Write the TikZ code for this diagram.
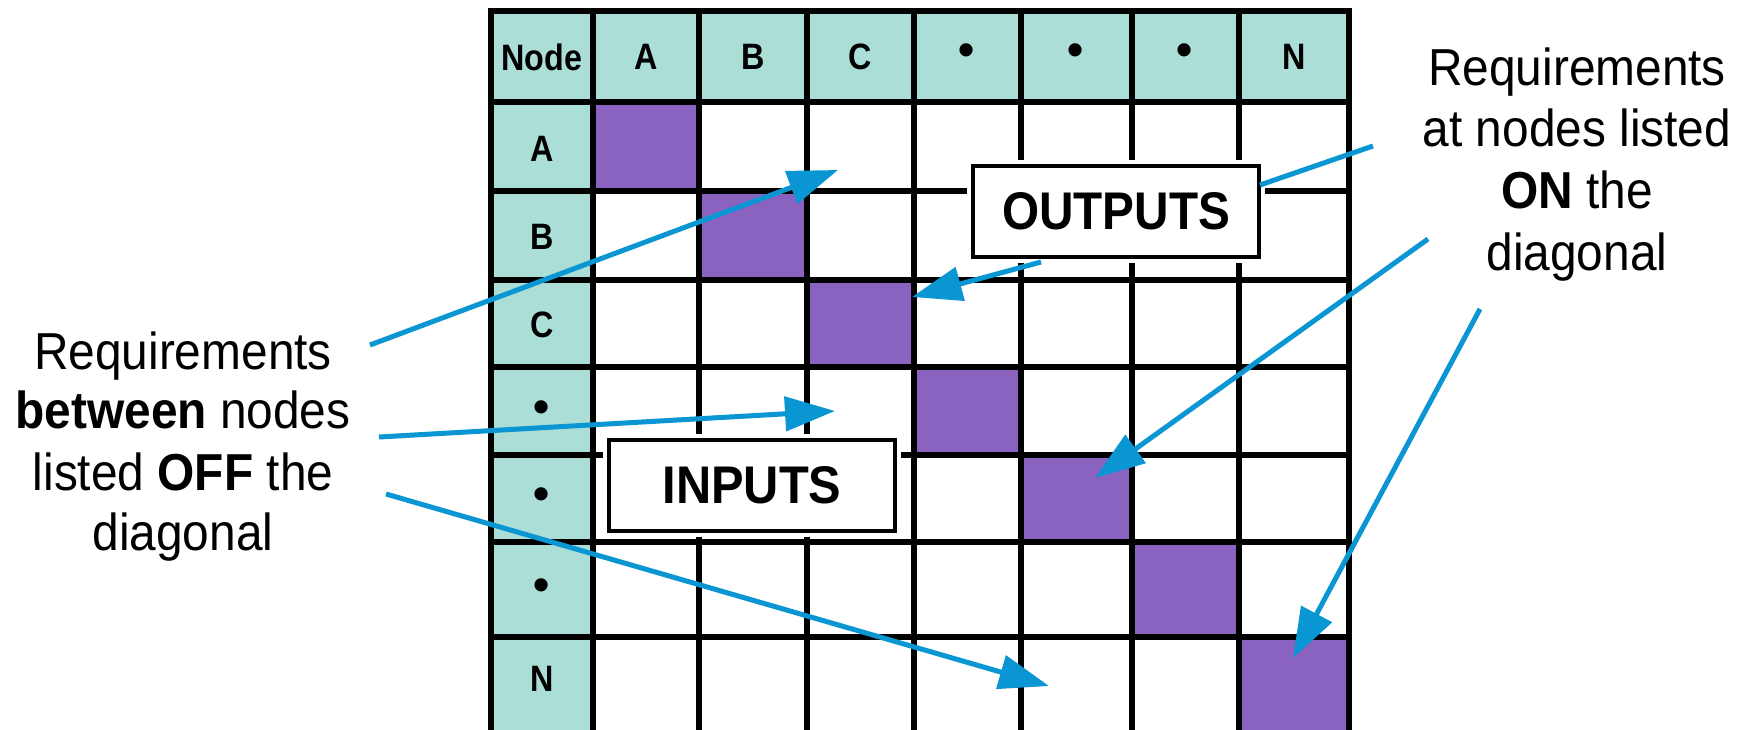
\documentclass[tikz,border=0pt]{standalone}
\usepackage{fontspec}
\setmainfont{Liberation Sans}
\usetikzlibrary{arrows.meta}
\definecolor{hdr}{RGB}{170,222,214}
\definecolor{diag}{RGB}{138,98,192}
\definecolor{arr}{RGB}{10,150,210}
\newcommand{\hx}[1]{\scalebox{0.95}[1.08]{#1}}
\newcommand{\nx}[1]{\scalebox{0.92}[1]{#1}}
\tikzset{
  gridline/.style={line width=6pt, line cap=rect},
  hdrtext/.style={font=\fontsize{34}{34}\selectfont\bfseries, inner sep=0pt},
  dottext/.style={font=\fontsize{46}{46}\selectfont\bfseries, inner sep=0pt},
  note/.style={font=\fontsize{52}{60}\selectfont, inner sep=0pt, anchor=base},
  labelbox/.style={draw=black, line width=3.5pt, fill=white,
    font=\fontsize{53}{53}\selectfont\bfseries,
    minimum width=286pt, minimum height=91pt, inner sep=0pt,
    preaction={draw=white, line width=12pt}},
  pointer/.style={draw=arr, line width=5pt, -{Triangle[length=50pt,width=34pt]}},
  leader/.style={draw=arr, line width=5pt},
}
\begin{document}
\begin{tikzpicture}[x=1pt,y=-1pt]
\useasboundingbox (0,0) rectangle (1745,730);
\clip (0,0) rectangle (1745,730);
\fill[white] (0,0) rectangle (1745,730);
% header fills
\fill[hdr] (491,11) rectangle (1349,102);
\fill[hdr] (491,102) rectangle (593,745);
% diagonal
\fill[diag] (593,102) rectangle (699,191);
\fill[diag] (699,191) rectangle (807,280);
\fill[diag] (807,280) rectangle (914,367);
\fill[diag] (914,367) rectangle (1021,455);
\fill[diag] (1021,455) rectangle (1132,542);
\fill[diag] (1132,542) rectangle (1239,637);
\fill[diag] (1239,637) rectangle (1349,745);
% grid
\foreach \x in {491,593,699,807,914,1021,1132,1239,1349}
  \draw[gridline] (\x,11) -- (\x,745);
\foreach \y in {11,102,191,280,367,455,542,637}
  \draw[gridline] (491,\y) -- (1349,\y);
% header texts
\node[hdrtext] (h0) at (542,57) {\hx{Node}};
\node[hdrtext] (h1) at (646,57) {\hx{A}};
\node[hdrtext] (h2) at (753,57) {\hx{B}};
\node[hdrtext] (h3) at (860,57) {\hx{C}};
\node[dottext] (h4) at (967,55) {•};
\node[dottext] (h5) at (1076,55) {•};
\node[dottext] (h6) at (1185,55) {•};
\node[hdrtext] (h7) at (1294,57) {\hx{N}};
\node[hdrtext] (r1) at (542,149) {\hx{A}};
\node[hdrtext] (r2) at (542,237) {\hx{B}};
\node[hdrtext] (r3) at (542,325) {\hx{C}};
\node[dottext] (r4) at (542,412) {•};
\node[dottext] (r5) at (542,499) {•};
\node[dottext] (r6) at (542,590) {•};
\node[hdrtext] (r7) at (542,679) {\hx{N}};
% label boxes
\node[labelbox] (obox) at (1116,211.5) {\scalebox{0.9}[1]{OUTPUTS}};
\node[labelbox] (ibox) at (752,485.5) {\scalebox{0.92}[1]{INPUTS}};
% notes
\node[note] (l1) at (183,369) {\nx{Requirements}};
\node[note] (l2) at (183,428) {\nx{\textbf{between} nodes}};
\node[note] (l3) at (183,490) {\nx{listed \textbf{OFF} the}};
\node[note] (l4) at (183,550) {\nx{diagonal}};
\node[note] (q1) at (1577,86) {\nx{Requirements}};
\node[note] (q2) at (1577,147) {\nx{at nodes listed}};
\node[note] (q3) at (1577,208) {\nx{\textbf{ON} the}};
\node[note] (q4) at (1577,270) {\nx{diagonal}};
% arrow endpoints
\coordinate (a1s) at (370,345);  \coordinate (a1e) at (838,170);
\coordinate (a2s) at (1041,262); \coordinate (a2e) at (912,297);
\coordinate (a3s) at (379,437);  \coordinate (a3e) at (835,411);
\coordinate (a4s) at (386,494);  \coordinate (a4e) at (1049,686);
\coordinate (a5s) at (1373,146); \coordinate (a5e) at (1260,185);
\coordinate (a6s) at (1428,239); \coordinate (a6e) at (1095,478);
\coordinate (a7s) at (1480,309); \coordinate (a7e) at (1293,658);
\draw[pointer] (a1s) -- (a1e);
\draw[pointer] (a2s) -- (a2e);
\draw[pointer] (a3s) -- (a3e);
\draw[pointer] (a4s) -- (a4e);
\draw[leader] (a5s) -- (a5e);
\draw[pointer] (a6s) -- (a6e);
\draw[pointer] (a7s) -- (a7e);
\end{tikzpicture}
\end{document}
